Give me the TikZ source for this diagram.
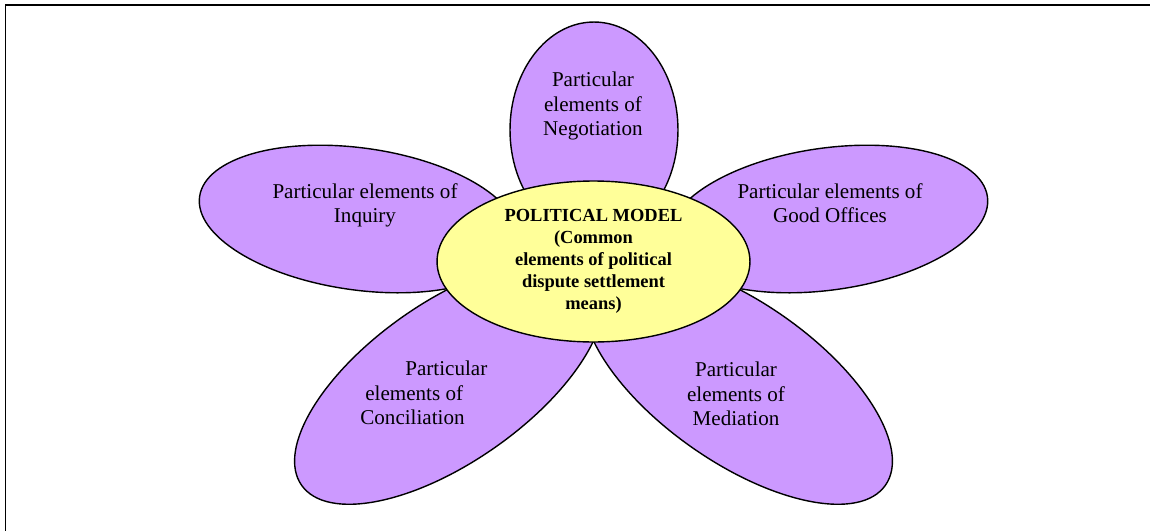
\documentclass[tikz,border=0pt]{standalone}
\usepackage{fontspec}
\setmainfont{Liberation Serif}
\usetikzlibrary{shapes.geometric}

\definecolor{petalpurple}{RGB}{204,153,255}
\definecolor{heartyellow}{RGB}{255,255,153}

\def\cx{593.5}
\def\cy{261.5}

\tikzset{
  petal/.style={ellipse, draw=black, line width=0.8pt, fill=petalpurple, inner sep=0pt},
  heart/.style={ellipse, draw=black, line width=0.8pt, fill=heartyellow, inner sep=0pt,
    align=center, font=\bfseries\fontsize{10.5}{12.5}\selectfont},
  petaltext/.style={align=center, inner sep=0pt, font=\fontsize{12}{13.8}\selectfont},
}

\begin{document}
\begin{tikzpicture}[x=0.02cm, y=-0.02cm]
        \useasboundingbox (0,0) rectangle (1150,531);
        \draw[line width=1pt] (5.5,531) -- (5.5,5) -- (1150,5);
        % petals, lower ones first
        \node[petal, minimum width=7.2cm, minimum height=3.2cm, rotate=35] (concPetal) at (449,382) {};
        \node[petal, minimum width=7.2cm, minimum height=3.2cm, rotate=-35] (medPetal) at (738,382) {};
        \node[petal, minimum width=6.44cm, minimum height=2.84cm, rotate=-8] (inqPetal) at (359,219) {};
        \node[petal, minimum width=6.44cm, minimum height=2.84cm, rotate=8] (goodPetal) at (828,219) {};
        \node[petal, minimum width=3.36cm, minimum height=4.32cm] (negPetal) at (594,130) {};
        % centre
        \node[heart, minimum width=6.26cm, minimum height=3.22cm] (model) at (\cx,\cy)
            {POLITICAL MODEL\\(Common\\elements of political\\dispute settlement\\means)};
        % petal texts
        \node[petaltext] (negText) at (593,106) {Particular\\elements of\\Negotiation};
        \node[petaltext] (inqText) at (365,205) {Particular elements of\\Inquiry};
        \node[petaltext] (goodText) at (830,203) {Particular elements of\\Good Offices};
        \node[petaltext, align=left, anchor=west] (concText) at (360,393)
            {\hspace*{0.9cm}Particular\\\hspace*{0.1cm}elements of\\Conciliation};
        \node[petaltext] (medText) at (736,394) {Particular\\elements of\\Mediation};
    \end{tikzpicture}
\end{document}
